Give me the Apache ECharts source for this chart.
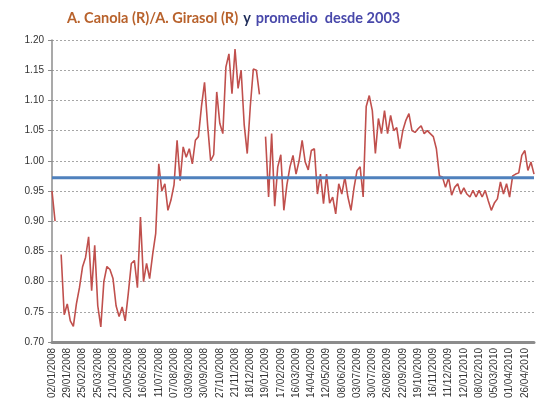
<!DOCTYPE html>
<html>
<head>
<meta charset="utf-8">
<script src="https://cdn.jsdelivr.net/npm/echarts@6/dist/echarts.min.js"></script>
<style>
  html, body { margin: 0; padding: 0; background: #fff; }
  #chart { width: 540px; height: 419px; }
</style>
</head>
<body>
<div id="chart"></div>
<script>
// x axis counts trading days; a date label every 20 days, one reading every 4 days
const DAYS_PER_LABEL = 20
const DAYS_PER_POINT = 4

const tickLabels = [
  "02/01/2008", "29/01/2008", "25/02/2008", "25/03/2008", "21/04/2008", "20/05/2008",
  "16/06/2008", "11/07/2008", "07/08/2008", "03/09/2008", "30/09/2008", "27/10/2008",
  "21/11/2008", "18/12/2008", "19/01/2009", "17/02/2009", "16/03/2009", "14/04/2009",
  "12/05/2009", "08/06/2009", "03/07/2009", "30/07/2009", "26/08/2009", "22/09/2009",
  "19/10/2009", "16/11/2009", "11/12/2009", "12/01/2010", "08/02/2010", "05/03/2010",
  "01/04/2010", "26/04/2010"
]

// A. Canola (R) / A. Girasol (R), null = no quote
const ratio = [
  0.950, 0.900, null, 0.845, 0.745, 0.763, 0.735, 0.726, 0.763, 0.790,
  0.824, 0.840, 0.874, 0.785, 0.860, 0.760, 0.725, 0.800, 0.825, 0.820,
  0.805, 0.760, 0.742, 0.758, 0.735, 0.780, 0.830, 0.835, 0.790, 0.907,
  0.800, 0.830, 0.805, 0.845, 0.880, 0.995, 0.950, 0.962, 0.918, 0.935,
  0.960, 1.034, 0.967, 1.023, 1.006, 1.020, 0.995, 1.034, 1.040, 1.090,
  1.130, 1.060, 1.000, 1.010, 1.114, 1.062, 1.045, 1.155, 1.177, 1.111,
  1.185, 1.120, 1.150, 1.060, 1.012, 1.090, 1.152, 1.150, 1.110, null,
  1.040, 0.940, 1.045, 0.925, 0.990, 1.010, 0.918, 0.960, 0.990, 1.009,
  0.978, 1.000, 1.034, 0.998, 0.985, 1.017, 1.020, 0.945, 0.978, 0.929,
  0.978, 0.930, 0.940, 0.912, 0.962, 0.945, 0.973, 0.940, 0.918, 0.955,
  0.984, 0.990, 0.940, 1.090, 1.108, 1.083, 1.012, 1.070, 1.045, 1.083,
  1.045, 1.075, 1.050, 1.055, 1.020, 1.050, 1.067, 1.078, 1.050, 1.047,
  1.053, 1.058, 1.045, 1.050, 1.045, 1.040, 1.020, 0.975, 0.973, 0.956,
  0.972, 0.943, 0.956, 0.962, 0.945, 0.955, 0.945, 0.940, 0.951, 0.940,
  0.951, 0.940, 0.951, 0.934, 0.918, 0.930, 0.937, 0.965, 0.945, 0.962,
  0.940, 0.975, 0.978, 0.980, 1.009, 1.017, 0.984, 0.998, 0.978
]

// promedio desde 2003
const promedio = 0.972

const lastDay = (ratio.length - 1) * DAYS_PER_POINT
const ratioData = ratio.map((v, i) => [i * DAYS_PER_POINT, v])
const promedioData = [[0, promedio], [lastDay, promedio]]

const chart = echarts.init(document.getElementById("chart"))

chart.setOption({
  animation: false,
  backgroundColor: "#fff",
  title: {
    left: 62,
    top: 4,
    text: "{a|A. Canola (R)/A. Girasol (R)} {b|y} {c|promedio  desde 2003}",
    textStyle: {
      rich: {
        a: { color: "#b8622c", fontSize: 14.5, fontFamily: "Lato" },
        b: { color: "#1f2d5a", fontSize: 14.5, fontFamily: "Lato" },
        c: { color: "#4848aa", fontSize: 14.5, fontFamily: "Lato" }
      }
    }
  },
  grid: { left: 52, right: 6, top: 40, bottom: 77 },
  xAxis: {
    type: "value",
    min: 0,
    max: lastDay,
    interval: DAYS_PER_LABEL,
    axisLine: { show: true, onZero: false, lineStyle: { color: "#8c8c8c", width: 3 } },
    axisTick: { show: false },
    splitLine: { show: false },
    axisLabel: {
      rotate: 90,
      margin: 6,
      showMaxLabel: false,
      color: "#333",
      fontSize: 10,
      fontFamily: "Liberation Sans",
      formatter: (v) => tickLabels[v / DAYS_PER_LABEL] || ""
    }
  },
  yAxis: {
    type: "value",
    min: 0.7,
    max: 1.2,
    interval: 0.05,
    axisLine: { show: true, lineStyle: { color: "#8c8c8c", width: 1.5 } },
    axisTick: { show: true, length: 4, lineStyle: { color: "#8c8c8c" } },
    splitLine: { lineStyle: { color: "#a6a6a6", width: 1, type: [2, 2] } },
    axisLabel: {
      color: "#333",
      fontSize: 10,
      fontFamily: "Liberation Sans",
      margin: 8,
      formatter: (v) => v.toFixed(2)
    }
  },
  series: [
    {
      name: "A. Canola (R)/A. Girasol (R)",
      type: "line",
      data: ratioData,
      showSymbol: false,
      connectNulls: false,
      lineStyle: { color: "#c0504d", width: 1.6 },
      z: 2
    },
    {
      name: "promedio desde 2003",
      type: "line",
      data: promedioData,
      showSymbol: false,
      lineStyle: { color: "#4f81bd", width: 3 },
      z: 3
    }
  ]
})
</script>
</body>
</html>
